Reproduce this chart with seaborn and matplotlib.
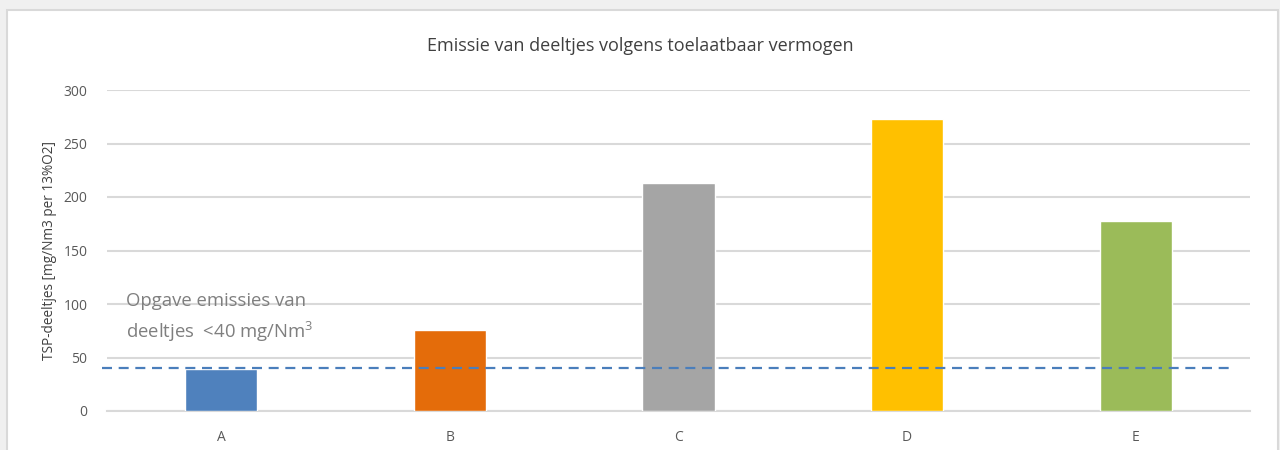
import matplotlib
matplotlib.use("Agg")
import matplotlib.pyplot as plt
import matplotlib.patches as mpatches
import seaborn as sns

categories = ["A", "B", "C", "D", "E"]
values = [39, 76, 213, 273, 178]
bar_colors = ["#4f81bd", "#e46c0a", "#a5a5a5", "#ffc000", "#9bbb59"]
limit_value = 40
y_ticks = [0, 50, 100, 150, 200, 250, 300]

title = "Emissie van deeltjes volgens toelaatbaar vermogen"
y_label = "TSP-deeltjes [mg/Nm3 per 13%O2]"
note = "Opgave emissies van\ndeeltjes  <40 mg/Nm$^3$"


def main():
    sns.set_theme(style="white")
    plt.rcParams["font.family"] = ["Open Sans", "DejaVu Sans"]
    plt.rcParams["mathtext.fontset"] = "custom"
    plt.rcParams["mathtext.rm"] = "Open Sans"

    fig = plt.figure(figsize=(12.8, 4.5), dpi=100, facecolor="#f0f0f0")
    # white chart box with light border, like the spreadsheet frame
    fig.patches.append(mpatches.Rectangle(
        (7 / 1280, -0.05), 1271 / 1280, 1.05 - 10 / 450,
        transform=fig.transFigure, facecolor="white",
        edgecolor="#d9d9d9", linewidth=1.5, zorder=-10))

    ax = fig.add_axes([107 / 1280, 1 - 411 / 450, 1143 / 1280, 321 / 450])
    ax.set_zorder(2)
    ax.set_facecolor("none")

    sns.barplot(x=categories, y=values, hue=categories, palette=bar_colors,
                legend=False, width=0.315, saturation=1, ax=ax, zorder=3)

    ax.set_xlim(-0.5, 4.5)
    ax.set_ylim(0, 300)
    ax.set_yticks(y_ticks)
    ax.yaxis.grid(True, color="#d9d9d9", linewidth=1.5, zorder=0)
    ax.set_axisbelow(True)
    sns.despine(ax=ax, left=True)
    ax.spines["bottom"].set_color("#d9d9d9")
    ax.spines["bottom"].set_linewidth(1.5)
    ax.tick_params(axis="both", length=0, labelsize=10, colors="#595959")
    ax.tick_params(axis="y", pad=14)
    ax.tick_params(axis="x", pad=14)

    ax.hlines(limit_value, -0.52, 4.42, colors="#4a7ebb", linestyles=(0, (4.5, 3)),
              linewidth=1.6, zorder=4, clip_on=False)

    ax.text(-0.417, 111, note, fontsize=13.3, color="#7f7f7f", va="top", ha="left",
            linespacing=1.55, zorder=5)

    ax.set_ylabel(y_label, fontsize=9.8, color="#404040")
    ax.yaxis.set_label_coords(-0.044, 0.5)
    ax.set_xlabel("")
    fig.text(0.5, 1 - 46 / 450, title, ha="center", va="center", fontsize=13,
             color="#404040")

    fig.savefig("out.png", dpi=100, facecolor=fig.get_facecolor())


if __name__ == "__main__":
    main()
